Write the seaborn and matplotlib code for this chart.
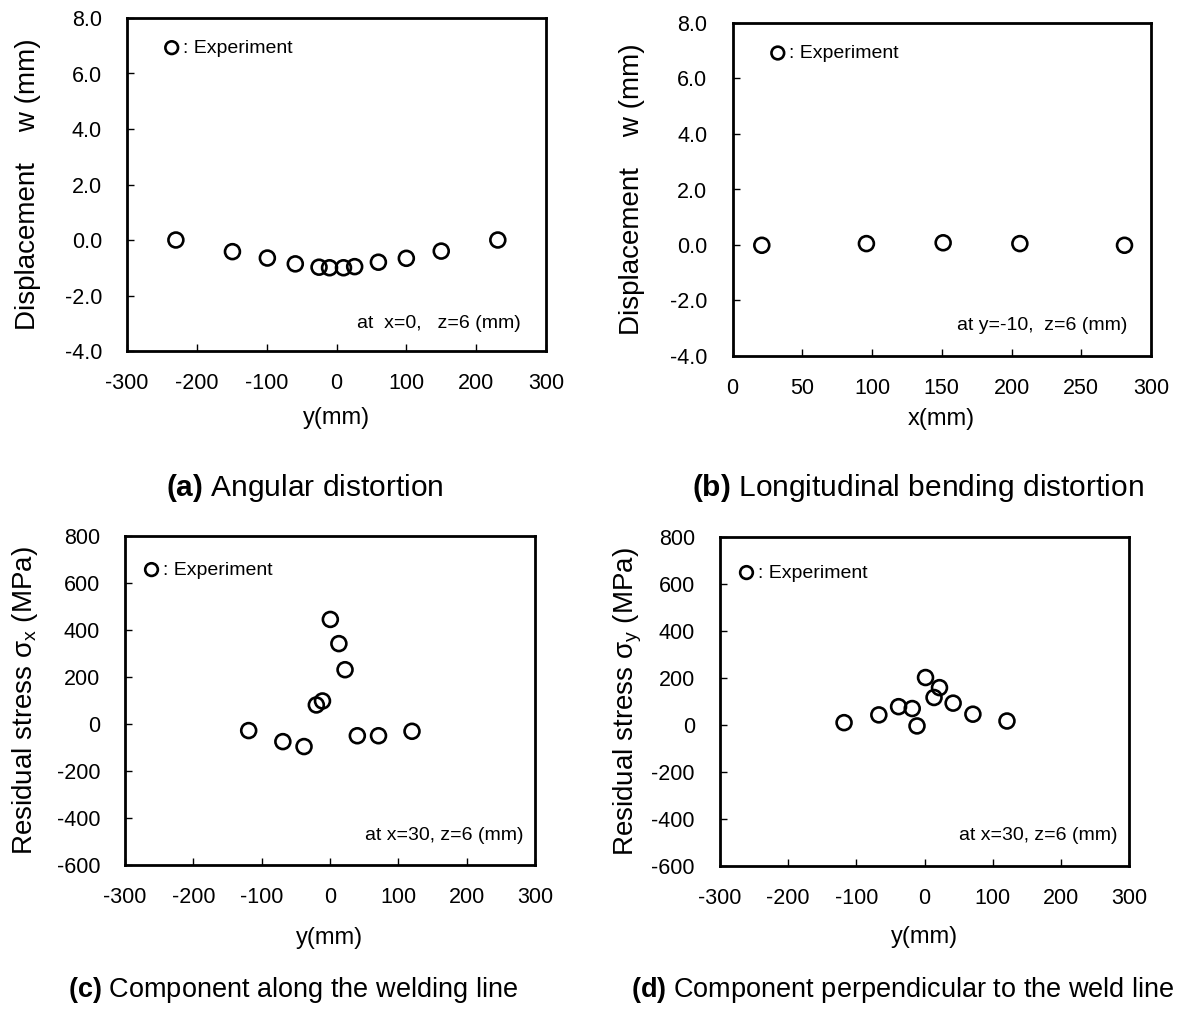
import matplotlib
matplotlib.use("Agg")
import matplotlib.pyplot as plt
import seaborn as sns

# ---- data ----
a_y = [-230, -149, -99, -59, -25, -10, 10, 26, 60, 100, 150, 231]
a_w = [0.0, -0.42, -0.65, -0.86, -0.98, -1.0, -1.0, -0.96, -0.80, -0.66, -0.40, 0.0]

b_x = [21, 96, 151, 206, 281]
b_w = [-0.01, 0.05, 0.08, 0.05, -0.01]

c_y = [-119, -69, -38, -20, -11, 0.5, 13, 22, 40, 71, 120]
c_s = [-28, -75, -96, 81, 98, 445, 342, 231, -50, -50, -31]

d_y = [-118, -67, -38, -18, -11, 1.5, 14, 22, 42, 71, 121]
d_s = [10, 43, 78, 70, -4, 202, 117, 159, 93, 46, 17]

disp_ticks = [-4, -2, 0, 2, 4, 6, 8]
stress_ticks = [-600, -400, -200, 0, 200, 400, 600, 800]
y_ticks = [-300, -200, -100, 0, 100, 200, 300]
x_ticks = [0, 50, 100, 150, 200, 250, 300]

sns.set_theme(style="ticks")
plt.rcParams['font.family'] = ['Liberation Sans', 'DejaVu Sans']
plt.rcParams['axes.unicode_minus'] = False
plt.rcParams['text.color'] = 'black'
plt.rcParams['axes.labelcolor'] = 'black'
plt.rcParams['xtick.color'] = 'black'
plt.rcParams['ytick.color'] = 'black'
plt.rcParams['mathtext.fontset'] = 'custom'
plt.rcParams['mathtext.rm'] = 'Liberation Sans'
plt.rcParams['mathtext.it'] = 'Liberation Sans:italic'
plt.rcParams['mathtext.bf'] = 'Liberation Sans:bold'

W, H = 1177, 1013
fig = plt.figure(figsize=(W / 100, H / 100), dpi=100)
fig.patch.set_facecolor('white')


def make_axes(l, r, t, b):
    return fig.add_axes([l / W, 1 - b / H, (r - l) / W, (b - t) / H])


TICK_FS = 15.5
LAB_FS = 17
YLAB_FS = 20
LEG_FS = 14
NOTE_FS = 14
CAP_TOP_FS = 21.5
CAP_BOT_FS = 19.5


def style(ax, xlim, ylim, xt, yt, yfmt, xlabel, ylabel, xlab_y, ylab_x, note, note_xy, leg_xy):
    ax.set_xlim(*xlim)
    ax.set_ylim(*ylim)
    ax.set_xticks(xt)
    ax.set_yticks(yt)
    ax.set_yticklabels([yfmt.format(v) for v in yt])
    ax.set_xticklabels([str(v) for v in xt])
    ax.tick_params(direction='in', length=5, width=1, labelsize=TICK_FS,
                   pad=16, colors='black', labelcolor='black', top=False, right=False)
    ax.tick_params(axis='y', pad=18)
    for sp in ax.spines.values():
        sp.set_visible(True)
        sp.set_linewidth(2.0)
        sp.set_color('black')
    ax.set_xlabel(xlabel, fontsize=LAB_FS, va='center', color='black')
    ax.xaxis.set_label_coords(0.5, xlab_y)
    ax.set_ylabel(ylabel, fontsize=YLAB_FS, va='center', color='black')
    ax.yaxis.set_label_coords(ylab_x, 0.5)
    ax.text(note_xy[0], note_xy[1], note, transform=ax.transAxes,
            ha='right', va='center', fontsize=NOTE_FS, color='black')
    leg = ax.legend(loc='center left', bbox_to_anchor=leg_xy, frameon=False,
                    fontsize=LEG_FS, handlelength=1.0, handletextpad=0.1,
                    borderpad=0, borderaxespad=0, markerscale=0.85, scatterpoints=1)
    for t in leg.get_texts():
        t.set_color('black')
    ax.set_facecolor('white')


def scatter(ax, x, y):
    sns.scatterplot(x=x, y=y, ax=ax, marker='o', s=115, facecolor='none',
                    edgecolor='black', linewidth=1.9, label=': Experiment',
                    legend=False)


# (a)
axa = make_axes(127, 546, 18, 351)
scatter(axa, a_y, a_w)
style(axa, (-300, 300), (-4, 8), y_ticks, disp_ticks, "{:.1f}", "y(mm)",
      "Displacement    w (mm)", -0.20, -0.236, "at  x=0,   z=6 (mm)",
      (0.94, 0.084), (0.0835, 0.91))

# (b)
axb = make_axes(732.5, 1151, 23, 356)
scatter(axb, b_x, b_w)
style(axb, (0, 300), (-4, 8), x_ticks, disp_ticks, "{:.1f}", "x(mm)",
      "Displacement    w (mm)", -0.188, -0.239, "at y=-10,  z=6 (mm)",
      (0.944, 0.093), (0.085, 0.909))

# (c)
axc = make_axes(125, 535, 536, 865)
scatter(axc, c_y, c_s)
style(axc, (-300, 300), (-600, 800), y_ticks, stress_ticks, "{:d}", "y(mm)",
      r"Residual stress σ$_\mathregular{x}$ (MPa)", -0.222, -0.244,
      "at x=30, z=6 (mm)", (0.973, 0.091), (0.041, 0.897))

# (d)
axd = make_axes(720, 1129, 537, 866)
scatter(axd, d_y, d_s)
style(axd, (-300, 300), (-600, 800), y_ticks, stress_ticks, "{:d}", "y(mm)",
      r"Residual stress σ$_\mathregular{y}$ (MPa)", -0.215, -0.225,
      "at x=30, z=6 (mm)", (0.971, 0.094), (0.041, 0.891))

# captions
fig.text(305 / W, 1 - 488 / H, r"$\mathbf{(a)}$ Angular distortion",
         fontsize=CAP_TOP_FS, ha='center', va='center')
fig.text(692 / W, 1 - 488 / H, r"$\mathbf{(b)}$ Longitudinal bending distortion",
         fontsize=CAP_TOP_FS, ha='left', va='center')
fig.text(68 / W, 1 - 990 / H, r"$\mathbf{(c)}$ Component along the welding line",
         fontsize=CAP_BOT_FS, ha='left', va='center')
fig.text(1175 / W, 1 - 990 / H, r"$\mathbf{(d)}$ Component perpendicular to the weld line",
         fontsize=CAP_BOT_FS, ha='right', va='center')

fig.savefig("out.png", dpi=100, facecolor='white')
